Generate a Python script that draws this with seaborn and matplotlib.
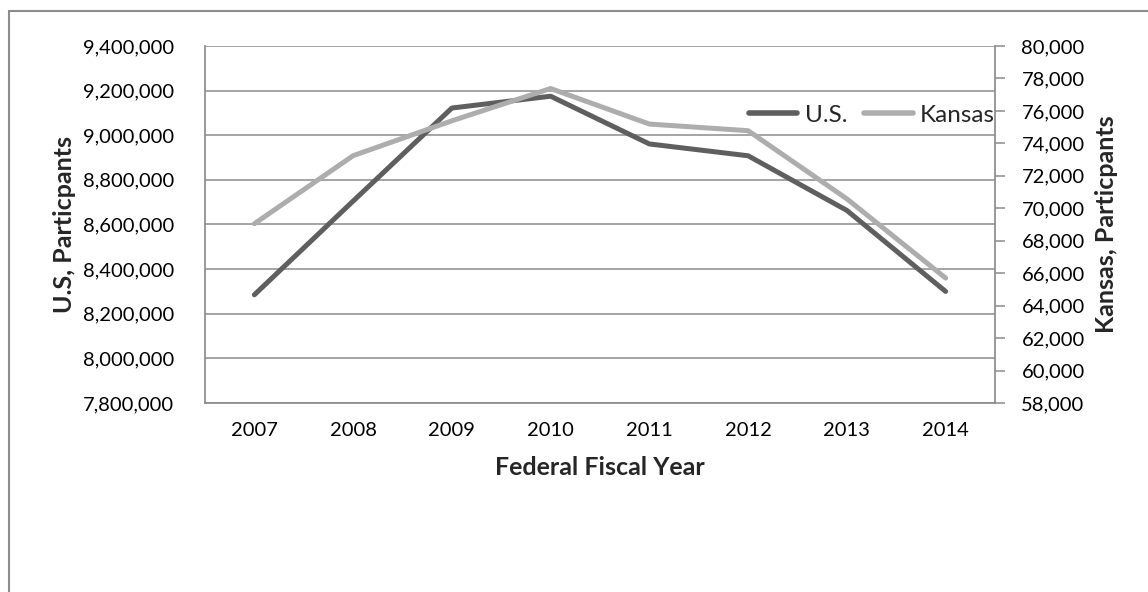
import matplotlib
matplotlib.use("Agg")
import matplotlib.pyplot as plt
import matplotlib.ticker as mticker
from matplotlib.patches import Rectangle
from matplotlib.lines import Line2D
import seaborn as sns
import pandas as pd

years = ["2007", "2008", "2009", "2010", "2011", "2012", "2013", "2014"]
us_participants = [8285000, 8705000, 9122000, 9175000, 8961000, 8908000, 8663000, 8300000]
kansas_participants = [69050, 73240, 75390, 77380, 75190, 74780, 70580, 65700]

us_color = "#5f5f5f"
ks_color = "#adadad"
grid_color = "#8c8c8c"

sns.set_theme(style="white")
plt.rcParams["font.family"] = ["Lato", "DejaVu Sans"]

df = pd.DataFrame({"year": years, "us": us_participants, "ks": kansas_participants})
df["x"] = range(len(years))

fig = plt.figure(figsize=(11.48, 5.92), dpi=100)
ax = fig.add_axes([205 / 1148, 1 - 403 / 592, 790 / 1148, 357 / 592])
ax2 = ax.twinx()

sns.lineplot(data=df, x="x", y="us", ax=ax, color=us_color, lw=3.6, legend=False,
             solid_capstyle="round", solid_joinstyle="round")
sns.lineplot(data=df, x="x", y="ks", ax=ax2, color=ks_color, lw=3.6, legend=False,
             solid_capstyle="round", solid_joinstyle="round")

ax.set_xlim(-0.5, len(years) - 0.5)
ax.set_xticks(df["x"])
ax.set_xticklabels(years)
ax.set_ylim(7800000, 9400000)
ax.set_yticks(range(7800000, 9400001, 200000))
ax.yaxis.set_major_formatter(mticker.FuncFormatter(lambda v, p: f"{int(v):,}"))
ax2.set_ylim(58000, 80000)
ax2.set_yticks(range(58000, 80001, 2000))
ax2.yaxis.set_major_formatter(mticker.FuncFormatter(lambda v, p: f"{int(v):,}"))

ax.grid(axis="y", color=grid_color, lw=1.1)
ax.grid(axis="x", visible=False)
ax.set_axisbelow(True)

for a in (ax, ax2):
    for s in a.spines.values():
        s.set_visible(False)
ax.spines["left"].set_visible(True)
ax.spines["left"].set_color(grid_color)
ax.spines["bottom"].set_visible(True)
ax.spines["bottom"].set_color(grid_color)
ax2.spines["right"].set_visible(True)
ax2.spines["right"].set_color(grid_color)

tick_fs = 14.5
ax.tick_params(axis="x", length=0, pad=14, labelsize=tick_fs, colors="black")
ax.tick_params(axis="y", length=0, pad=22, labelsize=tick_fs, colors="black")
ax2.tick_params(axis="y", direction="out", length=7, width=1.1, color=grid_color,
                pad=12, labelsize=tick_fs, labelcolor="black", right=True)

title_fs = 18
ax.set_xlabel("Federal Fiscal Year", fontsize=title_fs, fontweight="bold", labelpad=12)
ax.set_ylabel("U.S, Particpants", fontsize=title_fs, fontweight="bold")
ax2.set_ylabel("Kansas, Particpants", fontsize=title_fs, fontweight="bold")
ax.yaxis.label.set_va("center")
ax2.yaxis.label.set_va("center")
ax.yaxis.set_label_coords((65 - 205) / 790, 0.5)
ax2.yaxis.set_label_coords((1107 - 205) / 790, 0.5)

handles = [Line2D([0], [0], color=us_color, lw=4, solid_capstyle="round"),
           Line2D([0], [0], color=ks_color, lw=4, solid_capstyle="round")]
leg = ax.legend(handles, ["U.S.", "Kansas"], ncol=2, frameon=False, fontsize=17.5,
                loc="center right", bbox_to_anchor=(1.0, (403 - 115) / 357),
                handlelength=2.0, handletextpad=0.3, columnspacing=0.7,
                borderaxespad=0, borderpad=0)
leg.set_zorder(10)

fig.patches.append(Rectangle((9 / 1148, -0.1), 1.2, 1 - 11 / 592 + 0.1,
                             transform=fig.transFigure, fill=False,
                             edgecolor="#8c8c8c", lw=1.5))

fig.savefig("out.png", dpi=100)
